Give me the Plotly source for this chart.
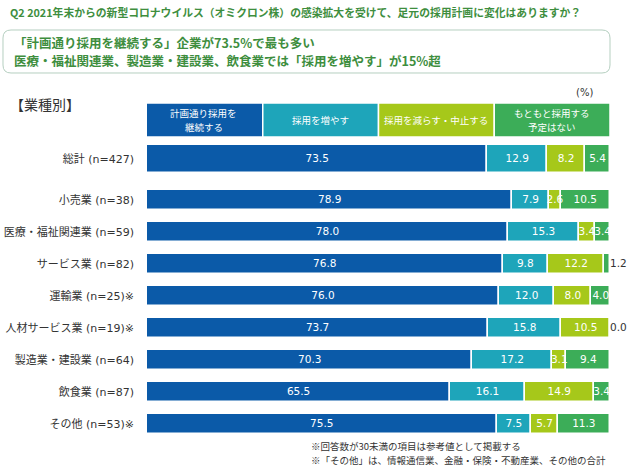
import re
import plotly.graph_objects as go

categories = ["総計 (n=427)", "小売業 (n=38)", "医療・福祉関連業 (n=59)", "サービス業 (n=82)",
              "運輸業 (n=25)※", "人材サービス業 (n=19)※", "製造業・建設業 (n=64)",
              "飲食業 (n=87)", "その他 (n=53)※"]
series_names = ["計画通り採用を<br>継続する", "採用を増やす", "採用を減らす・中止する", "もともと採用する<br>予定はない"]
continue_plan = [73.5, 78.9, 78.0, 76.8, 76.0, 73.7, 70.3, 65.5, 75.5]
increase = [12.9, 7.9, 15.3, 9.8, 12.0, 15.8, 17.2, 16.1, 7.5]
decrease = [8.2, 2.6, 3.4, 12.2, 8.0, 10.5, 3.1, 14.9, 5.7]
no_plan = [5.4, 10.5, 3.4, 1.2, 4.0, 0.0, 9.4, 3.4, 11.3]
values = [continue_plan, increase, decrease, no_plan]
colors = ["#0B5AA8", "#1EA5BA", "#A6C81A", "#3CAD58"]

FONT = "DejaVu Sans, Noto Sans CJK JP"
CJK = "Noto Sans CJK JP"
# layout positions (first row separated)
ypos = [0] + [1.28 + i for i in range(len(categories) - 1)]
widths = [0.875] + [0.625] * (len(categories) - 1)

fig = go.Figure()
bases = [0.0] * len(categories)
label_traces = []
for k, (name, vals, col) in enumerate(zip(series_names, values, colors)):
    fig.add_trace(go.Bar(
        y=ypos, x=vals, base=list(bases), orientation="h", width=widths, name=name,
        marker=dict(color=col, line=dict(color="white", width=1.5)),
        showlegend=False, hoverinfo="skip",
    ))
    inside = [i for i, v in enumerate(vals) if not (k == 3 and v < 2)]
    label_traces.append(go.Scatter(
        x=[bases[i] + vals[i] / 2 for i in inside], y=[ypos[i] for i in inside],
        text=[f"{vals[i]:.1f}" for i in inside], mode="text", textposition="middle center",
        textfont=dict(color="white", size=10.5, family="DejaVu Sans"),
        cliponaxis=False, showlegend=False, hoverinfo="skip"))
    bases = [b + v for b, v in zip(bases, vals)]

for t in label_traces:
    fig.add_trace(t)

# labels of tiny last segments, placed right of the bar end
small_idx = [i for i, v in enumerate(no_plan) if v < 2]
fig.add_trace(go.Scatter(
    x=[bases[i] for i in small_idx],
    y=[ypos[i] for i in small_idx],
    text=[f"{no_plan[i]:.1f}" for i in small_idx],
    mode="text", textposition="middle right",
    textfont=dict(color="#333333", size=10.5, family="DejaVu Sans"),
    cliponaxis=False, showlegend=False, hoverinfo="skip",
))

# header boxes
hy0, hy1 = -1.75, -0.69
shapes = []
annotations = []
edges = [-0.4, 25, 50, 75, 100]
for k in range(4):
    shapes.append(dict(type="rect", xref="x", yref="y", x0=edges[k], x1=edges[k + 1],
                       y0=hy0, y1=hy1, fillcolor=colors[k], line=dict(color="white", width=1.5),
                       layer="above"))
    lines = series_names[k].split("<br>")
    cy = (hy0 + hy1) / 2
    offs = [0] if len(lines) == 1 else [-0.21, 0.21]
    for ln, off in zip(lines, offs):
        annotations.append(dict(xref="x", yref="y", x=(edges[k] + edges[k + 1]) / 2, y=cy + off,
                                text=ln, showarrow=False,
                                font=dict(color="white", size=9.5, family=CJK)))

# vertical axis line
shapes.append(dict(type="line", xref="x", yref="paper", x0=-0.3, x1=-0.3, y0=0, y1=1,
                   line=dict(color="#D0D0D0", width=1.5), layer="below"))

fig.update_layout(
    width=630, height=467, barmode="overlay", bargap=0,
    margin=dict(l=147, r=20, t=95, b=27),
    paper_bgcolor="white", plot_bgcolor="white",
    font=dict(family=FONT, color="#333333"),
    xaxis=dict(range=[0, 100], visible=False, fixedrange=True, automargin=False),
    yaxis=dict(range=[8.78125, -2], tickvals=ypos, ticktext=categories, automargin=False,
               tickfont=dict(size=11, color="#333333", family=FONT),
               showgrid=False, zeroline=False, showline=False, ticks="",
               ticklabelstandoff=12),
    shapes=shapes,
    annotations=annotations,
)

# paper-pixel helpers
PW, PH, L, T = 463, 345, 147, 95
def px(x):
    return (x - L) / PW
def py(y):
    return 1 - (y - T) / PH

r = 8
x0, x1, y0, y1 = 3, 610, 30, 73
path = (f"M {x0 + r},{y0} L {x1 - r},{y0} Q {x1},{y0} {x1},{y0 + r} L {x1},{y1 - r} Q {x1},{y1} {x1 - r},{y1} "
        f"L {x0 + r},{y1} Q {x0},{y1} {x0},{y1 - r} L {x0},{y0 + r} Q {x0},{y0} {x0 + r},{y0} Z")
def conv(m):
    a, b = float(m.group(1)), float(m.group(2))
    return f"{px(a):.5f},{py(b):.5f}"
path_paper = re.sub(r"([\d.]+),([\d.]+)", conv, path)
fig.add_shape(type="path", xref="paper", yref="paper", path=path_paper,
              line=dict(color="#B5CFC0", width=1), fillcolor="rgba(0,0,0,0)")

green = "#3E8E3E"
fig.add_annotation(xref="paper", yref="paper", x=px(8), y=py(12), xanchor="left", yanchor="middle",
                   text="<b>Q2 2021年末からの新型コロナウイルス（オミクロン株）の感染拡大を受けて、足元の採用計画に変化はありますか？</b>",
                   showarrow=False, font=dict(size=10.8, color=green, family=CJK))
fig.add_annotation(xref="paper", yref="paper", x=px(12), y=py(42), xanchor="left", yanchor="middle",
                   text="<b>「計画通り採用を継続する」企業が73.5%で最も多い</b>",
                   showarrow=False, font=dict(size=12.5, color=green, family=CJK))
fig.add_annotation(xref="paper", yref="paper", x=px(12), y=py(60), xanchor="left", yanchor="middle",
                   text="<b>医療・福祉関連業、製造業・建設業、飲食業では「採用を増やす」が15%超</b>",
                   showarrow=False, font=dict(size=12.5, color=green, family=CJK))
fig.add_annotation(xref="paper", yref="paper", x=px(8), y=py(104), xanchor="left", yanchor="middle",
                   text="【業種別】", showarrow=False, font=dict(size=14, color="#333333", family=CJK))
fig.add_annotation(xref="paper", yref="paper", x=px(584), y=py(92), xanchor="center", yanchor="middle",
                   text="(%)", showarrow=False, font=dict(size=10, color="#333333", family=FONT))
fig.add_annotation(xref="paper", yref="paper", x=px(309), y=py(446), xanchor="left", yanchor="middle",
                   text="※回答数が30未満の項目は参考値として掲載する", showarrow=False,
                   font=dict(size=9.5, color="#333333", family=CJK))
fig.add_annotation(xref="paper", yref="paper", x=px(309), y=py(460), xanchor="left", yanchor="middle",
                   text="※「その他」は、情報通信業、金融・保険・不動産業、その他の合計", showarrow=False,
                   font=dict(size=9.5, color="#333333", family=CJK))

fig.write_html("out.html")
